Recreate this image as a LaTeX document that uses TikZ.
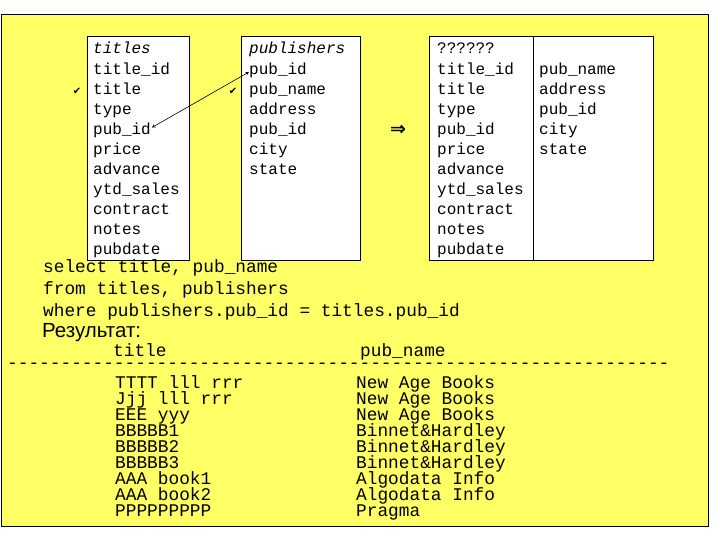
\documentclass[tikz,border=0pt]{standalone}
\usepackage{fontspec}
\setmonofont{Liberation Mono}
\newfontfamily\arialfont{Liberation Sans}
\newfontfamily\symfont{DejaVu Sans}
\definecolor{slideyellow}{RGB}{255,255,102}

\begin{document}
\begin{tikzpicture}[x=1pt,y=-1pt,
  field/.style={anchor=west,inner sep=0pt,text height=1.5ex,text depth=.25ex,
    font=\ttfamily\fontsize{16}{16}\selectfont},
  query/.style={field,font=\ttfamily\fontsize{17.8}{17.8}\selectfont},
  rowtext/.style={query,text height=1.3ex,text depth=0pt},
  tablebox/.style={draw,fill=white,line width=0.8pt},
  tick/.style={inner sep=0pt,font=\symfont\fontsize{10}{10}\selectfont}]
  \useasboundingbox (0,0) rectangle (720,540);
  % slide
  \draw[fill=slideyellow] (1,14) rectangle (708,526);
  % table frames
  \draw[tablebox] (87,36) rectangle (189,260);
  \draw[tablebox] (241,36) rectangle (360,260);
  \draw[tablebox] (429,36) rectangle (653,260);
  \draw (533,36) -- (533,260);
  % titles
  \node[field,font=\ttfamily\itshape\fontsize{16}{16}\selectfont] (t) at (93,51) {titles};
  \foreach \f [count=\i from 0] in {title\_id,title,type,pub\_id,price,advance,ytd\_sales,contract,notes,pubdate}
    \node[field] (t\i) at (93,72+20*\i) {\f};
  % publishers
  \node[field,font=\ttfamily\itshape\fontsize{16}{16}\selectfont] (p) at (249,51) {publishers};
  \foreach \f [count=\i from 0] in {pub\_id,pub\_name,address,pub\_id,city,state}
    \node[field] (p\i) at (249,72+20*\i) {\f};
  % joined table
  \node[field] (r) at (437,51) {??????};
  \foreach \f [count=\i from 0] in {title\_id,title,type,pub\_id,price,advance,ytd\_sales,contract,notes,pubdate}
    \node[field] (r\i) at (437,72+20*\i) {\f};
  \foreach \f [count=\i from 0] in {pub\_name,address,pub\_id,city,state}
    \node[field] (s\i) at (539,72+20*\i) {\f};
  % marks
  \node[tick] (chk1) at (77,91) {✔};
  \node[tick] (chk2) at (233,91) {✔};
  \draw[<->,>=stealth,semithick,shorten <=1pt] (t3.north east) -- (p0.west);
  \node[font=\symfont\bfseries\fontsize{19}{19}\selectfont] (impl) at (398,130) {⇒};
  % query
  \node[query] (q1) at (43,270) {select title, pub\_name};
  \node[query] (q2) at (43,292) {from titles, publishers};
  \node[query] (q3) at (43,314) {where publishers.pub\_id = titles.pub\_id};
  \node[anchor=west,inner sep=0pt,font=\arialfont\fontsize{20.5}{20.5}\selectfont] (res) at (42,333) {Результат:};
  % result
  \node[rowtext] (h1) at (113,354) {title};
  \node[rowtext] (h2) at (360,354) {pub\_name};
  \node[query,text height=.4em,text depth=0pt] (rule) at (7,366) {--------------------------------------------------------------};
  \foreach \a/\b [count=\i from 0] in {TTTT lll rrr/New Age Books,Jjj lll rrr/New Age Books,
      EEE yyy/New Age Books,BBBBB1/Binnet\&Hardley,BBBBB2/Binnet\&Hardley,BBBBB3/Binnet\&Hardley,
      AAA book1/Algodata Info,AAA book2/Algodata Info,PPPPPPPPP/Pragma} {
    \node[rowtext] (a\i) at (115,386+16*\i) {\a};
    \node[rowtext] (b\i) at (356,386+16*\i) {\b};
  }
\end{tikzpicture}
\end{document}
